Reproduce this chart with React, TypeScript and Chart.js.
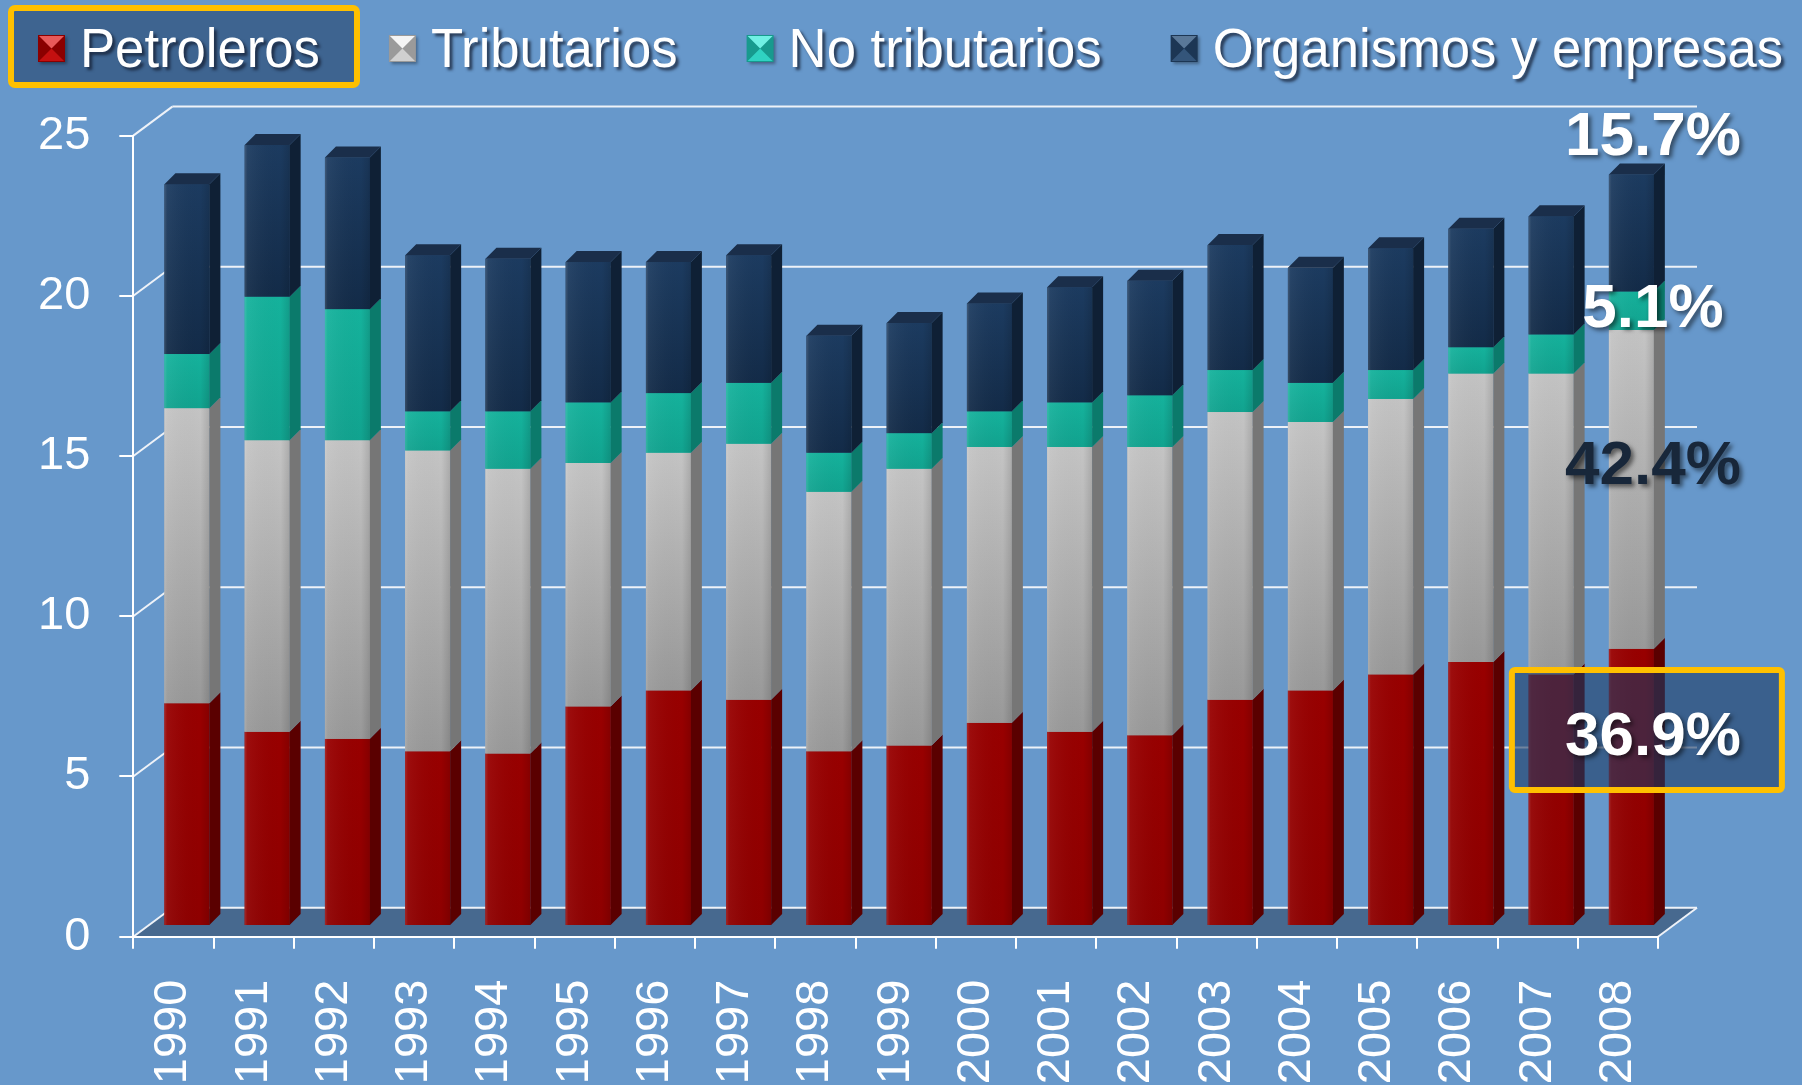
import { useEffect, useRef } from "react";
import { Chart, registerables } from "chart.js";

Chart.register(...registerables);

const years = ["1990", "1991", "1992", "1993", "1994", "1995", "1996", "1997", "1998", "1999", "2000", "2001", "2002", "2003", "2004", "2005", "2006", "2007", "2008"];
const petroleros = [6.95, 6.06, 5.84, 5.45, 5.38, 6.85, 7.35, 7.06, 5.45, 5.63, 6.34, 6.06, 5.95, 7.06, 7.35, 7.85, 8.24, 7.85, 8.65];
const tributarios = [9.21, 9.1, 9.32, 9.39, 8.89, 7.6, 7.42, 7.99, 8.1, 8.64, 8.61, 8.89, 9.0, 8.98, 8.38, 8.6, 9.0, 9.39, 9.95];
const noTributarios = [1.69, 4.48, 4.09, 1.22, 1.79, 1.89, 1.86, 1.9, 1.22, 1.11, 1.11, 1.39, 1.61, 1.31, 1.22, 0.9, 0.82, 1.22, 1.2];
const organismos = [5.3, 4.73, 4.73, 4.87, 4.76, 4.38, 4.09, 3.98, 3.65, 3.44, 3.37, 3.59, 3.58, 3.9, 3.59, 3.8, 3.7, 3.69, 3.65];
const seriesLabels = ["Petroleros", "Tributarios", "No tributarios", "Organismos y empresas"];
const yTickValues = [0, 5, 10, 15, 20, 25];
const shareLabels2008 = ["36.9%", "42.4%", "5.1%", "15.7%"];

const FONT = '"Liberation Sans", Arial, Helvetica, sans-serif';
const BG = "#6798cb";
const BACK_DX = 39;
const BACK_DY = -29;
const BAR_DX = 13.5;
const BAR_DY = -10.7;
const DEPTH_X = 11;
const DEPTH_Y = -11;

type Style = { base: string; faceTop: string; faceBottom: string; side: string; cap: string; mLight: string; mMid: string; mDark: string };
const styles: Style[] = [
  { base: "#940000", faceTop: "#980000", faceBottom: "#8e0000", side: "#5a0000", cap: "#700000", mLight: "#e85a5a", mMid: "#c41010", mDark: "#8a0000" },
  { base: "#b0b0b0", faceTop: "#c4c4c4", faceBottom: "#999999", side: "#767676", cap: "#9a9a9a", mLight: "#f4f4f4", mMid: "#d0d0d0", mDark: "#9a9a9a" },
  { base: "#14b09a", faceTop: "#15b29c", faceBottom: "#11a38f", side: "#0b7a6b", cap: "#0f8f7e", mLight: "#70f0e4", mMid: "#30d2c2", mDark: "#179a8e" },
  { base: "#18365a", faceTop: "#1c3b60", faceBottom: "#132b48", side: "#0f2035", cap: "#1a2e4a", mLight: "#5a7898", mMid: "#34557a", mDark: "#1c3654" },
];

function drawLegend(ctx: CanvasRenderingContext2D, labels: string[]) {
  ctx.save();
  // highlight box around first item
  ctx.fillStyle = "#3e6490";
  ctx.strokeStyle = "#ffc000";
  ctx.lineWidth = 6;
  ctx.beginPath();
  (ctx as any).roundRect(11, 8, 346, 77, 4);
  ctx.fill();
  ctx.stroke();

  const SX = 0.94;
  ctx.font = `56px ${FONT}`;
  ctx.textBaseline = "alphabetic";
  ctx.textAlign = "left";
  let x = 38;
  const my = 35;
  const mw = 27;
  const mh = 27;
  labels.forEach((label, i) => {
    const st = styles[i];
    // marker (bevelled square)
    ctx.shadowColor = "rgba(0,0,0,0.35)";
    ctx.shadowOffsetX = 2;
    ctx.shadowOffsetY = 2;
    ctx.shadowBlur = 3;
    ctx.fillStyle = st.mDark;
    ctx.fillRect(x, my, mw, mh);
    ctx.shadowColor = "transparent";
    const cx = x + mw / 2;
    const cy = my + mh / 2;
    ctx.fillStyle = st.mLight;
    ctx.beginPath();
    ctx.moveTo(x + 1, my + 1);
    ctx.lineTo(x + mw - 1, my + 1);
    ctx.lineTo(cx, cy);
    ctx.closePath();
    ctx.fill();
    ctx.fillStyle = st.mMid;
    ctx.beginPath();
    ctx.moveTo(x + 1, my + mh - 1);
    ctx.lineTo(x + mw - 1, my + mh - 1);
    ctx.lineTo(cx, cy);
    ctx.closePath();
    ctx.fill();
    // text (slightly condensed)
    const tx = x + mw + 15;
    ctx.save();
    ctx.translate(tx, 67);
    ctx.scale(SX, 1);
    ctx.shadowColor = "rgba(20,30,50,0.75)";
    ctx.shadowOffsetX = 3;
    ctx.shadowOffsetY = 3;
    ctx.shadowBlur = 3;
    ctx.fillStyle = "#ffffff";
    ctx.fillText(label, 0, 0);
    ctx.restore();
    x = tx + ctx.measureText(label).width * SX + 69;
  });
  ctx.restore();
}

const threeDPlugin = {
  id: "threeD",
  beforeDraw(chart: any) {
    const { ctx, chartArea: a, scales } = chart;
    const ys = scales.y;
    ctx.save();
    ctx.fillStyle = BG;
    ctx.fillRect(0, 0, chart.width, chart.height);
    const y0 = ys.getPixelForValue(0);
    // floor
    ctx.fillStyle = "#47698f";
    ctx.beginPath();
    ctx.moveTo(a.left, y0);
    ctx.lineTo(a.left + BACK_DX, y0 + BACK_DY);
    ctx.lineTo(a.right + BACK_DX, y0 + BACK_DY);
    ctx.lineTo(a.right, y0);
    ctx.closePath();
    ctx.fill();
    // back wall gridlines & connectors
    ctx.strokeStyle = "#eef2f8";
    ctx.lineWidth = 2;
    yTickValues.forEach((v) => {
      const py = ys.getPixelForValue(v);
      ctx.beginPath();
      ctx.moveTo(a.left + BACK_DX, py + BACK_DY);
      ctx.lineTo(a.right + BACK_DX, py + BACK_DY);
      ctx.stroke();
      ctx.beginPath();
      ctx.moveTo(a.left, py);
      ctx.lineTo(a.left + BACK_DX, py + BACK_DY);
      ctx.stroke();
    });
    ctx.beginPath();
    ctx.moveTo(a.right, y0);
    ctx.lineTo(a.right + BACK_DX, y0 + BACK_DY);
    ctx.stroke();
    ctx.restore();
    drawLegend(ctx, chart.data.datasets.map((d: any) => d.label));
  },
  beforeDatasetsDraw(chart: any) {
    chart.ctx.save();
    chart.ctx.translate(BAR_DX, BAR_DY);
  },
  afterDatasetsDraw(chart: any) {
    const ctx: CanvasRenderingContext2D = chart.ctx;
    const n = chart.data.datasets.length;
    chart.data.datasets.forEach((_ds: any, di: number) => {
      const meta = chart.getDatasetMeta(di);
      const st = styles[di];
      meta.data.forEach((el: any) => {
        const { x, y, base, width } = el.getProps(["x", "y", "base", "width"], true);
        const l = x - width / 2;
        const r = x + width / 2;
        const top = Math.min(y, base);
        const bot = Math.max(y, base);
        const g = ctx.createLinearGradient(0, top, 0, bot);
        g.addColorStop(0, st.faceTop);
        g.addColorStop(1, st.faceBottom);
        ctx.fillStyle = g;
        ctx.fillRect(l, top, width, bot - top);
        const h = ctx.createLinearGradient(l, 0, r, 0);
        h.addColorStop(0, "rgba(255,255,255,0.16)");
        h.addColorStop(0.06, "rgba(255,255,255,0.05)");
        h.addColorStop(0.8, "rgba(0,0,0,0)");
        h.addColorStop(1, "rgba(0,0,0,0.12)");
        ctx.fillStyle = h;
        ctx.fillRect(l, top, width, bot - top);
        // side face
        ctx.fillStyle = st.side;
        ctx.beginPath();
        ctx.moveTo(r, top);
        ctx.lineTo(r + DEPTH_X, top + DEPTH_Y);
        ctx.lineTo(r + DEPTH_X, bot + DEPTH_Y);
        ctx.lineTo(r, bot);
        ctx.closePath();
        ctx.fill();
        if (di === n - 1) {
          ctx.fillStyle = st.cap;
          ctx.beginPath();
          ctx.moveTo(l, top);
          ctx.lineTo(l + DEPTH_X, top + DEPTH_Y);
          ctx.lineTo(r + DEPTH_X, top + DEPTH_Y);
          ctx.lineTo(r, top);
          ctx.closePath();
          ctx.fill();
        }
      });
    });
    ctx.restore();

    // annotations for 2008 shares
    const xs = chart.scales.x;
    const ys = chart.scales.y;
    const cx = xs.getPixelForValue(years.length - 1) + 35;
    const anchors = [6.2, 14.66, 19.55, 24.92];
    const colors = ["#ffffff", "#18273a", "#ffffff", "#ffffff"];
    ctx.save();
    const by = ys.getPixelForValue(anchors[0]);
    ctx.fillStyle = "rgba(28,58,100,0.6)";
    ctx.strokeStyle = "#ffc000";
    ctx.lineWidth = 6;
    ctx.beginPath();
    (ctx as any).roundRect(cx - 141, by - 68, 270, 120, 3);
    ctx.fill();
    ctx.stroke();
    ctx.font = `bold 62px ${FONT}`;
    ctx.textAlign = "center";
    ctx.textBaseline = "middle";
    shareLabels2008.forEach((t, i) => {
      ctx.shadowColor = "rgba(0,0,0,0.5)";
      ctx.shadowOffsetX = 3;
      ctx.shadowOffsetY = 3;
      ctx.shadowBlur = 4;
      ctx.fillStyle = colors[i];
      ctx.fillText(t, cx, ys.getPixelForValue(anchors[i]));
    });
    ctx.restore();
  },
};

export default function App() {
  const ref = useRef<HTMLCanvasElement>(null);
  useEffect(() => {
    document.body.style.margin = "0";
    const seriesData = [petroleros, tributarios, noTributarios, organismos];
    const chart = new Chart(ref.current as HTMLCanvasElement, {
      type: "bar",
      data: {
        labels: years,
        datasets: seriesData.map((d, i) => ({
          label: seriesLabels[i],
          data: d,
          backgroundColor: styles[i].base,
          borderWidth: 0,
          barPercentage: 0.56,
          categoryPercentage: 1,
          clip: false as any,
        })),
      },
      options: {
        responsive: false,
        animation: false,
        devicePixelRatio: 1,
        layout: { padding: { top: 135.6, right: 144, left: 0, bottom: 0 } },
        plugins: { legend: { display: false }, tooltip: { enabled: false } },
        scales: {
          x: {
            stacked: true,
            grid: { display: true, drawOnChartArea: false, drawTicks: true, tickLength: 12, color: "#ffffff", lineWidth: 2, offset: true },
            border: { display: true, color: "#ffffff", width: 2 },
            ticks: { color: "#ffffff", font: { family: FONT, size: 47 }, minRotation: 90, maxRotation: 90, padding: 31, autoSkip: false },
            afterFit: (s: any) => {
              s.height = 1085 - 936.7;
            },
          },
          y: {
            stacked: true,
            min: 0,
            max: 25,
            grid: { display: true, drawOnChartArea: false, drawTicks: true, tickLength: 14, color: "#ffffff", lineWidth: 2 },
            border: { display: true, color: "#ffffff", width: 2 },
            ticks: { stepSize: 5, color: "#ffffff", font: { family: FONT, size: 47 }, padding: 29 },
            afterFit: (s: any) => {
              s.width = 133.3;
            },
          },
        },
      },
      plugins: [threeDPlugin],
    });
    return () => chart.destroy();
  }, []);
  return (
    <div style={{ position: "fixed", left: 0, top: 0, width: 1802, height: 1085, background: BG }}>
      <canvas ref={ref} width={1802} height={1085} style={{ display: "block", width: 1802, height: 1085 }} />
    </div>
  );
}
